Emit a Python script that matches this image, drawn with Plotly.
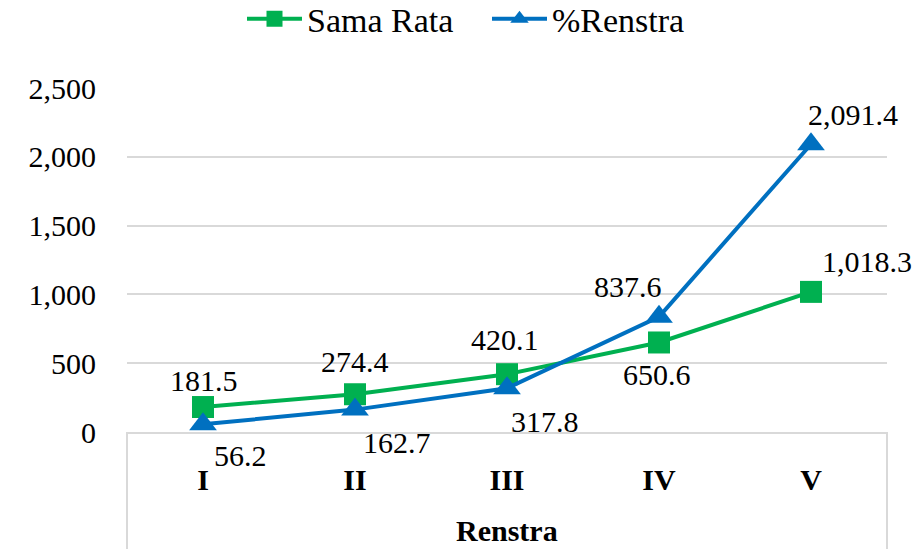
import plotly.graph_objects as go

categories = ["I", "II", "III", "IV", "V"]
sama_rata = [181.5, 274.4, 420.1, 650.6, 1018.3]
renstra = [56.2, 162.7, 317.8, 837.6, 2091.4]
y_ticks = [0, 500, 1000, 1500, 2000, 2500]
y_tick_text = ["0", "500", "1,000", "1,500", "2,000", "2,500"]

# label offsets (px) for data labels
sama_off = [(1, -27), (0, -33), (-2, -35), (-2, 32), (56, -30)]
ren_off = [(37, 31), (42, 33), (38, 33), (-31, -30), (42, -30)]

GREEN = "#00B050"
BLUE = "#0070C0"
FONT = "Times New Roman, Liberation Serif, DejaVu Serif, serif"
GRID = "#D9D9D9"

def fmt(v):
    return f"{v:,.1f}"

fig = go.Figure()
fig.add_trace(go.Scatter(
    x=categories, y=sama_rata, name="Sama Rata", mode="lines+markers",
    line=dict(color=GREEN, width=4),
    marker=dict(symbol="square", size=22, color=GREEN),
))
fig.add_trace(go.Scatter(
    x=categories, y=renstra, name="%Renstra", mode="lines+markers",
    line=dict(color=BLUE, width=4),
    marker=dict(symbol="triangle-up", size=24, color=BLUE),
))

anns = []
for c, v, (dx, dy) in zip(categories, sama_rata, sama_off):
    anns.append(dict(x=c, y=v, xref="x", yref="y", text=fmt(v), showarrow=False,
                     xshift=dx, yshift=-dy, font=dict(family=FONT, size=30, color="black")))
for c, v, (dx, dy) in zip(categories, renstra, ren_off):
    anns.append(dict(x=c, y=v, xref="x", yref="y", text=fmt(v), showarrow=False,
                     xshift=dx, yshift=-dy, font=dict(family=FONT, size=30, color="black")))
anns.append(dict(x=0.5, y=-0.285, xref="paper", yref="paper", text="<b>Renstra</b>",
                 showarrow=False, yanchor="middle",
                 font=dict(family=FONT, size=30, color="black")))

shapes = [
    dict(type="line", xref="paper", yref="paper", x0=0, x1=0, y0=0, y1=-0.34,
         line=dict(color=GRID, width=2)),
    dict(type="line", xref="paper", yref="paper", x0=1, x1=1, y0=0, y1=-0.34,
         line=dict(color=GRID, width=2)),
]

fig.update_layout(
    width=914, height=549,
    margin=dict(l=127, r=27, t=88, b=117),
    paper_bgcolor="white", plot_bgcolor="white",
    font=dict(family=FONT, size=30, color="black"),
    showlegend=True,
    legend=dict(orientation="h", xref="container", yref="container",
                x=242 / 914, xanchor="left", y=0.965, yanchor="middle",
                font=dict(family=FONT, size=34, color="black"),
                itemwidth=55, entrywidth=175, bgcolor="rgba(0,0,0,0)"),
    annotations=anns,
    shapes=shapes,
    xaxis=dict(type="category", showgrid=False, showline=True, linecolor=GRID, linewidth=2,
               ticks="", tickfont=dict(family=FONT, size=30, color="black", weight="bold"),
               ticklabelstandoff=20, range=[-0.5, 4.5]),
    yaxis=dict(range=[0, 2500], tickvals=y_ticks, ticktext=y_tick_text,
               showgrid=True, gridcolor=GRID, gridwidth=2, zeroline=False,
               showline=False, ticks="", ticklabelstandoff=30,
               tickfont=dict(family=FONT, size=30, color="black")),
)

fig.write_html("out.html", config={"displayModeBar": False},
               post_script="document.body.style.margin='0px';")
